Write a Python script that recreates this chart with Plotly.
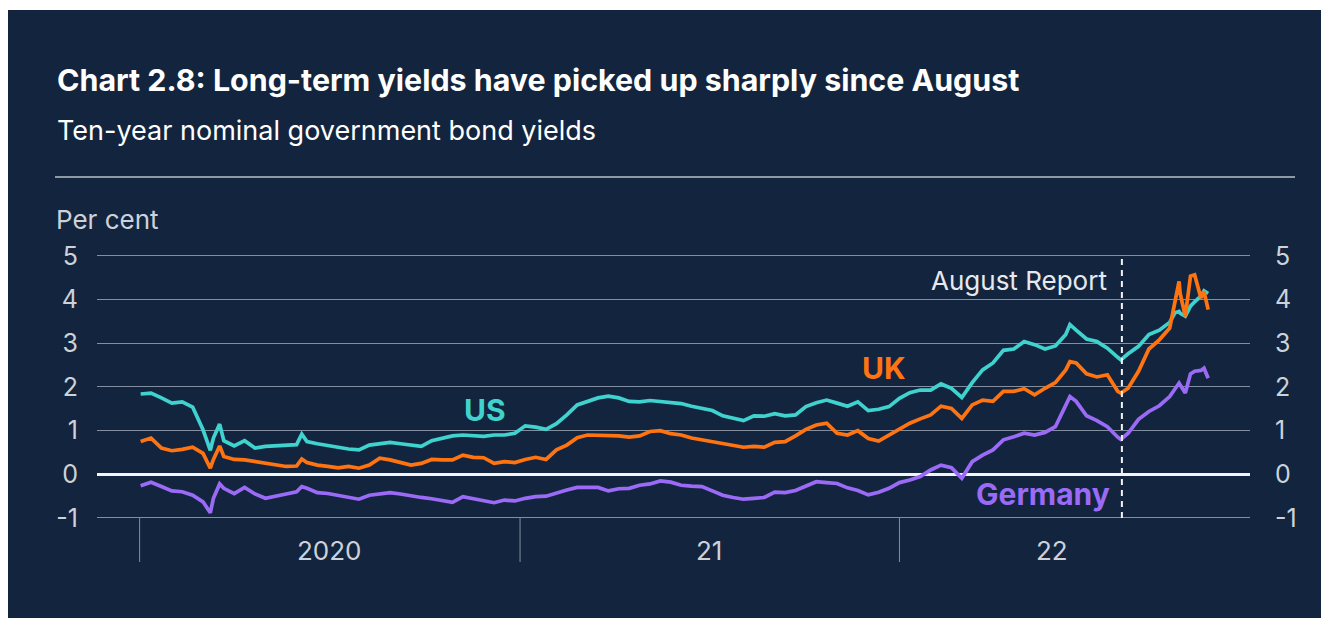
import pandas as pd
import plotly.graph_objects as go

# ---------------- data (ten-year yields, per cent) ----------------
grid_dates = pd.date_range("2020-01-02", periods=103, freq="10D")

us_grid = [1.84, 1.86, 1.75, 1.63, 1.66, 1.54, 1.02, 0.83, 0.77, 0.65,
           0.77, 0.60, 0.64, 0.65, 0.67, 0.68, 0.75, 0.70, 0.65, 0.62,
           0.58, 0.56, 0.67, 0.70, 0.73, 0.70, 0.67, 0.64, 0.77, 0.83,
           0.88, 0.90, 0.88, 0.87, 0.90, 0.90, 0.94, 1.11, 1.08, 1.03,
           1.16, 1.36, 1.59, 1.67, 1.75, 1.79, 1.75, 1.67, 1.66, 1.69,
           1.67, 1.66, 1.62, 1.56, 1.52, 1.46, 1.34, 1.29, 1.23, 1.34,
           1.33, 1.39, 1.34, 1.36, 1.55, 1.64, 1.70, 1.63, 1.56, 1.66,
           1.46, 1.49, 1.55, 1.74, 1.87, 1.93, 1.93, 2.07, 1.97, 1.76,
           2.10, 2.39, 2.55, 2.84, 2.87, 3.04, 2.97, 2.87, 2.94, 3.20,
           3.30, 3.10, 3.04, 2.89, 2.68, 2.76, 2.93, 3.20, 3.30, 3.48,
           3.69, 3.85, 4.08]

uk_grid = [0.75, 0.83, 0.60, 0.54, 0.57, 0.62, 0.48, 0.34, 0.41, 0.34,
           0.33, 0.29, 0.24, 0.21, 0.18, 0.19, 0.27, 0.21, 0.18, 0.15,
           0.18, 0.14, 0.21, 0.37, 0.33, 0.27, 0.21, 0.25, 0.34, 0.33,
           0.33, 0.44, 0.39, 0.38, 0.25, 0.29, 0.27, 0.34, 0.39, 0.34,
           0.56, 0.67, 0.84, 0.90, 0.90, 0.88, 0.88, 0.85, 0.88, 0.98,
           1.00, 0.93, 0.90, 0.83, 0.79, 0.73, 0.71, 0.65, 0.62, 0.64,
           0.62, 0.73, 0.75, 0.88, 1.03, 1.13, 1.17, 0.94, 0.90, 1.00,
           0.82, 0.76, 0.90, 1.05, 1.17, 1.27, 1.36, 1.56, 1.51, 1.28,
           1.59, 1.70, 1.67, 1.90, 1.90, 1.96, 1.82, 1.97, 2.10, 2.39,
           2.55, 2.30, 2.23, 2.28, 1.90, 1.97, 2.36, 2.87, 3.08, 3.35,
           4.15, 4.54, 4.04]

de_grid = [-0.26, -0.18, -0.28, -0.38, -0.40, -0.48, -0.63, -0.55, -0.32, -0.44,
           -0.30, -0.45, -0.55, -0.51, -0.45, -0.40, -0.32, -0.42, -0.44, -0.48,
           -0.51, -0.57, -0.48, -0.45, -0.42, -0.45, -0.50, -0.53, -0.56, -0.59,
           -0.64, -0.51, -0.55, -0.61, -0.65, -0.59, -0.61, -0.55, -0.51, -0.50,
           -0.42, -0.36, -0.30, -0.30, -0.30, -0.38, -0.33, -0.32, -0.25, -0.22,
           -0.15, -0.18, -0.25, -0.27, -0.28, -0.38, -0.48, -0.53, -0.57, -0.55,
           -0.53, -0.41, -0.42, -0.37, -0.27, -0.17, -0.19, -0.21, -0.31, -0.37,
           -0.47, -0.41, -0.32, -0.19, -0.13, -0.05, 0.10, 0.21, 0.15, -0.09,
           0.29, 0.44, 0.56, 0.79, 0.86, 0.94, 0.90, 0.96, 1.09, 1.55,
           1.67, 1.34, 1.23, 1.09, 0.85, 0.94, 1.26, 1.44, 1.57, 1.78,
           2.05, 2.30, 2.38]

extra_dates = ["2020-03-09", "2020-03-18", "2020-06-05", "2022-06-14", "2022-08-02",
               "2022-09-23", "2022-09-27", "2022-10-03", "2022-10-12", "2022-10-21",
               "2022-10-25"]
us_extra = [0.55, 1.15, 0.92, 3.43, 2.62, 3.70, 3.73, 3.62, 3.95, 4.20, 4.14]
uk_extra = [0.14, 0.65, 0.35, 2.58, 1.86, 3.92, 4.42, 3.62, 4.57, 4.19, 3.77]
de_extra = [-0.88, -0.22, -0.28, 1.78, 0.80, 1.97, 2.09, 1.86, 2.36, 2.43, 2.20]

y_ticks = [-1, 0, 1, 2, 3, 4, 5]
y_ticktext = ["-1", "0", "1", "2", "3", "4", "5"]
year_starts = ["2020-01-01", "2021-01-01", "2022-01-01"]
year_labels = ["2020", "21", "22"]
year_label_dates = ["2020-07-02", "2021-07-02", "2022-05-28"]
report_date = "2022-08-03"

df = pd.DataFrame({
    "date": list(grid_dates) + list(pd.to_datetime(extra_dates)),
    "US": us_grid + us_extra,
    "UK": uk_grid + uk_extra,
    "Germany": de_grid + de_extra,
}).sort_values("date")

# ---------------- styling ----------------
BG = "#13253e"
GRID = "#838e9e"
TXT = "#cdd2da"
FONT = "Inter, Liberation Sans, Arial, sans-serif"
COLORS = {"US": "#3fd2cf", "UK": "#ff7410", "Germany": "#9b6bf7"}

OFF = 8  # page body margin offset
W, H = 1329 - OFF, 618 - OFF
ML, MR, MT, MB = 97 - OFF, 79, 240 - OFF, 96
PW, PH = W - ML - MR, H - MT - MB


def px(xp):  # reference-screen x -> paper
    return (xp - OFF - ML) / PW


def py(yp):  # reference-screen y -> paper
    return (H - MB - (yp - OFF)) / PH


fig = go.Figure()
# invisible trace for the right-hand axis
fig.add_trace(go.Scatter(x=df["date"], y=df["Germany"], yaxis="y2", mode="lines",
                         line=dict(color="rgba(0,0,0,0)", width=0),
                         hoverinfo="skip", showlegend=False))
for name in ["Germany", "US", "UK"]:
    fig.add_trace(go.Scatter(x=df["date"], y=df[name], mode="lines", name=name,
                             line=dict(color=COLORS[name], width=3.7),
                             showlegend=False))

yr = [-1.092, 5.366]
fig.update_layout(
    width=W, height=H,
    margin=dict(l=ML, r=MR, t=MT, b=MB, pad=0),
    paper_bgcolor=BG, plot_bgcolor=BG,
    font=dict(family=FONT, color=TXT, size=24),
    xaxis=dict(type="date", range=["2019-11-21", "2022-12-04 06:00"],
               showgrid=False, showticklabels=False, zeroline=False,
               showline=False, ticks=""),
    yaxis=dict(range=yr, tickvals=y_ticks, ticktext=y_ticktext,
               showgrid=True, gridcolor=GRID, gridwidth=1,
               zeroline=True, zerolinecolor="#f2f4f6", zerolinewidth=2.5,
               showline=False, ticks="", ticklabelstandoff=18,
               tickfont=dict(family=FONT, color=TXT, size=25)),
    yaxis2=dict(range=yr, tickvals=y_ticks, ticktext=y_ticktext,
                overlaying="y", side="right", showgrid=False, zeroline=False,
                showline=False, ticks="", ticklabelstandoff=24,
                tickfont=dict(family=FONT, color=TXT, size=25)),
)

shapes = [
    # thin white strip above the dark panel
    dict(type="rect", xref="paper", yref="paper", x0=px(-5), x1=px(1340),
         y0=py(10), y1=py(0), fillcolor="white", line=dict(width=0), layer="above"),
    # separator under the subtitle
    dict(type="line", xref="paper", yref="paper", x0=px(55), x1=px(1295),
         y0=py(177), y1=py(177), line=dict(color="#8f98a6", width=2)),
    # August Report marker
    dict(type="line", xref="x", yref="y", x0=report_date, x1=report_date,
         y0=-1, y1=4.95, line=dict(color="#f2f2f2", width=2, dash="6px,5px")),
]
for d in year_starts:
    shapes.append(dict(type="line", xref="x", yref="paper", x0=d, x1=d,
                       y0=py(518), y1=py(562), line=dict(color=GRID, width=1)))
fig.update_layout(shapes=shapes)

ann = [
    dict(text="<b>Chart 2.8: Long-term yields have picked up sharply since August</b>",
         xref="paper", yref="paper", x=px(55), y=py(80), xanchor="left", yanchor="middle",
         showarrow=False, font=dict(family=FONT, size=30.4, color="white")),
    dict(text="Ten-year nominal government bond yields",
         xref="paper", yref="paper", x=px(55), y=py(131), xanchor="left", yanchor="middle",
         showarrow=False, font=dict(family=FONT, size=27, color="white")),
    dict(text="Per cent", xref="paper", yref="paper", x=px(54), y=py(220),
         xanchor="left", yanchor="middle", showarrow=False,
         font=dict(family=FONT, size=26, color=TXT)),
    dict(text="<b>US</b>", xref="x", yref="y", x="2020-11-28", y=1.47,
         xanchor="center", yanchor="middle", showarrow=False,
         font=dict(family=FONT, size=30, color=COLORS["US"])),
    dict(text="<b>UK</b>", xref="x", yref="y", x="2021-12-17", y=2.43,
         xanchor="center", yanchor="middle", showarrow=False,
         font=dict(family=FONT, size=30, color=COLORS["UK"])),
    dict(text="<b>Germany</b>", xref="x", yref="y", x="2022-05-19", y=-0.46,
         xanchor="center", yanchor="middle", showarrow=False,
         font=dict(family=FONT, size=30, color=COLORS["Germany"])),
    dict(text="August Report", xref="x", yref="y", x="2022-07-22", y=4.44,
         xanchor="right", yanchor="middle", showarrow=False,
         font=dict(family=FONT, size=26, color="#e6e9ee")),
]
for lab, d in zip(year_labels, year_label_dates):
    ann.append(dict(text=lab, xref="x", yref="paper", x=d, y=py(550),
                    xanchor="center", yanchor="middle", showarrow=False,
                    font=dict(family=FONT, size=26, color=TXT)))
fig.update_layout(annotations=ann)

fig.write_html("out.html")
